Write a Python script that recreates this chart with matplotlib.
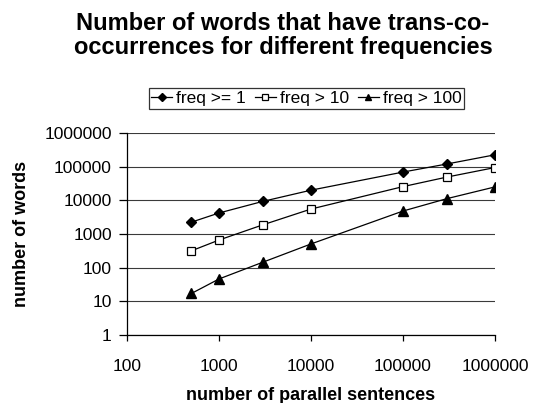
import matplotlib
matplotlib.use("Agg")
import matplotlib.pyplot as plt
from matplotlib.ticker import FixedLocator, FixedFormatter, NullLocator

plt.rcParams["font.family"] = ["Liberation Sans", "DejaVu Sans"]

# Data
sentences = [500, 1000, 3000, 10000, 100000, 300000, 1000000]
freq_ge_1 = [2240, 4200, 9300, 20000, 69000, 120000, 225000]
freq_gt_10 = [315, 660, 1870, 5500, 25500, 49000, 94000]
freq_gt_100 = [17, 46, 145, 505, 4800, 11200, 25000]

x_ticks = [100, 1000, 10000, 100000, 1000000]
y_ticks = [1, 10, 100, 1000, 10000, 100000, 1000000]

fig = plt.figure(figsize=(5.34, 4.03), dpi=100)
ax = fig.add_axes([0.238, 0.169, 0.689, 0.501])

ax.plot(sentences, freq_ge_1, color="black", lw=0.9, marker="D",
        markersize=5, markerfacecolor="black", label="freq >= 1")
ax.plot(sentences, freq_gt_10, color="black", lw=0.9, marker="s",
        markersize=6, markerfacecolor="white", markeredgewidth=0.9,
        label="freq > 10")
ax.plot(sentences, freq_gt_100, color="black", lw=0.9, marker="^",
        markersize=6.5, markerfacecolor="black", label="freq > 100")

ax.set_xscale("log")
ax.set_yscale("log")
ax.set_xlim(100, 1000000)
ax.set_ylim(1, 1000000)

ax.xaxis.set_major_locator(FixedLocator(x_ticks))
ax.xaxis.set_major_formatter(FixedFormatter([str(v) for v in x_ticks]))
ax.xaxis.set_minor_locator(NullLocator())
ax.yaxis.set_major_locator(FixedLocator(y_ticks))
ax.yaxis.set_major_formatter(FixedFormatter([str(v) for v in y_ticks]))
ax.yaxis.set_minor_locator(NullLocator())

ax.grid(axis="y", color="#3a3a3a", lw=0.8)
ax.set_axisbelow(True)
for side in ["top", "right"]:
    ax.spines[side].set_visible(False)
for side in ["left", "bottom"]:
    ax.spines[side].set_linewidth(0.9)
ax.tick_params(axis="both", direction="out", width=0.9, labelsize=12.5)
ax.tick_params(axis="y", length=6, pad=5)
ax.tick_params(axis="x", length=4, pad=13)

ax.set_xlabel("number of parallel sentences", fontsize=13,
              fontweight="bold", labelpad=10)
ax.set_ylabel("number of words", fontsize=13, fontweight="bold",
              labelpad=10)

fig.text(0.53, 0.912, "Number of words that have trans-co-\noccurrences for different frequencies",
         ha="center", va="center", fontsize=17, fontweight="bold",
         linespacing=1.05)

leg = ax.legend(loc="center", bbox_to_anchor=(0.574, 0.756),
                bbox_transform=fig.transFigure, ncol=3, frameon=True,
                fancybox=False, edgecolor="black", fontsize=12.5,
                handlelength=1.2, handletextpad=0.25, columnspacing=0.5,
                borderpad=0.15, borderaxespad=0, markerscale=0.75)
leg.get_frame().set_linewidth(0.9)

fig.savefig("out.png", dpi=100)
